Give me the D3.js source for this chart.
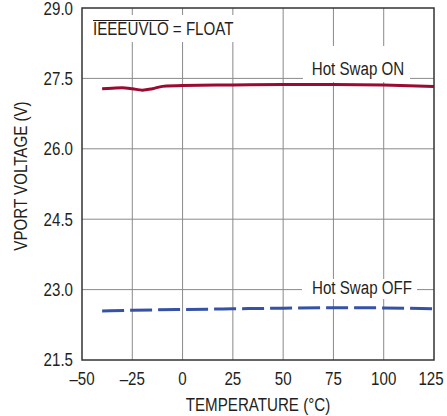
<!DOCTYPE html>
<html><head><meta charset="utf-8">
<script src="https://cdn.jsdelivr.net/npm/d3@7"></script>
<style>
html,body{margin:0;padding:0;background:#fff;}
svg text{font-family:"Liberation Sans",Arial,sans-serif;fill:#231f20;}
</style></head>
<body><svg id="c" width="447" height="416"></svg>
<script>
const xTicks = [-50,-25,0,25,50,75,100,125];
const yTicks = [21.5,23.0,24.5,26.0,27.5,29.0];
const onTemps = [-40,-35,-30,-25,-20,-15,-10,0,25,50,75,100,125];
const onVolts = [27.28,27.29,27.30,27.28,27.25,27.28,27.33,27.35,27.36,27.37,27.37,27.36,27.33];
const offTemps = [-40,-25,0,25,50,75,100,125];
const offVolts = [22.544,22.56,22.575,22.59,22.605,22.615,22.61,22.59];

const svg = d3.select("#c");
const L=82,R=434,T=8,B=360;
const x = d3.scaleLinear().domain([-50,125]).range([L,R]);
const y = d3.scaleLinear().domain([21.5,29.0]).range([B,T]);

// grid
const g = svg.append("g");
g.selectAll(".vx").data(xTicks.slice(1,-1)).join("line")
 .attr("x1",d=>x(d)).attr("x2",d=>x(d)).attr("y1",T).attr("y2",B)
 .attr("stroke","#8a8a8a").attr("stroke-width",1);
g.selectAll(".hy").data(yTicks.slice(1,-1)).join("line")
 .attr("y1",d=>y(d)).attr("y2",d=>y(d)).attr("x1",L).attr("x2",R)
 .attr("stroke","#8a8a8a").attr("stroke-width",1);

// label backgrounds
svg.append("rect").attr("x",86).attr("y",15).attr("width",152).attr("height",27).attr("fill","#fff");
svg.append("rect").attr("x",303).attr("y",46).attr("width",107).attr("height",36).attr("fill","#fff");
svg.append("rect").attr("x",302).attr("y",279).attr("width",115).attr("height",20).attr("fill","#fff");

// lines
const line = d3.line().curve(d3.curveMonotoneX);
svg.append("path").attr("d",line(onTemps.map((t,i)=>[x(t),y(onVolts[i])])))
 .attr("fill","none").attr("stroke","#9b0a30").attr("stroke-width",3);
svg.append("path").attr("d",line(offTemps.map((t,i)=>[x(t),y(offVolts[i])])))
 .attr("fill","none").attr("stroke","#3652a6").attr("stroke-width",3).attr("stroke-dasharray","22,6");

// frame
svg.append("rect").attr("x",L).attr("y",T).attr("width",R-L).attr("height",B-T)
 .attr("fill","none").attr("stroke","#333").attr("stroke-width",1.5);

const fs = 18, K = 0.84;
function squeeze(sel){
  sel.each(function(){
    const w = this.getComputedTextLength();
    this.setAttribute("textLength", (w*K).toFixed(1));
    this.setAttribute("lengthAdjust","spacingAndGlyphs");
  });
  return sel;
}
// axes labels
squeeze(svg.selectAll(".yt").data(yTicks).join("text")
 .attr("x",73).attr("y",d=>y(d)).attr("dy",d=>d===29?"0.40em":"0.36em").attr("text-anchor","end")
 .attr("font-size",fs).text(d=>d.toFixed(1)));
squeeze(svg.selectAll(".xt").data(xTicks).join("text")
 .attr("x",d=>d===125?x(d)-3:x(d)).attr("y",385).attr("text-anchor","middle")
 .attr("font-size",fs).text(d=>d<0?"\u2013"+Math.abs(d):d));
squeeze(svg.append("text").attr("x",258).attr("y",411).attr("text-anchor","middle").attr("font-size",fs).text("TEMPERATURE (°C)"));
squeeze(svg.append("text").attr("transform","translate(27,176) rotate(-90)").attr("text-anchor","middle").attr("font-size",fs).text("VPORT VOLTAGE (V)"));

// annotations
const t1 = svg.append("text").attr("x",93).attr("y",35).attr("font-size",fs).text("IEEEUVLO = FLOAT");
const fullW = t1.node().getComputedTextLength();
const barW = t1.node().getSubStringLength(0,8);
squeeze(t1);
svg.append("line").attr("x1",93).attr("x2",93+barW*K).attr("y1",20.5).attr("y2",20.5)
 .attr("stroke","#231f20").attr("stroke-width",1.2);
squeeze(svg.append("text").attr("x",358).attr("y",75).attr("text-anchor","middle").attr("font-size",fs).text("Hot Swap ON"));
squeeze(svg.append("text").attr("x",362).attr("y",294).attr("text-anchor","middle").attr("font-size",fs).text("Hot Swap OFF"));
</script></body></html>
